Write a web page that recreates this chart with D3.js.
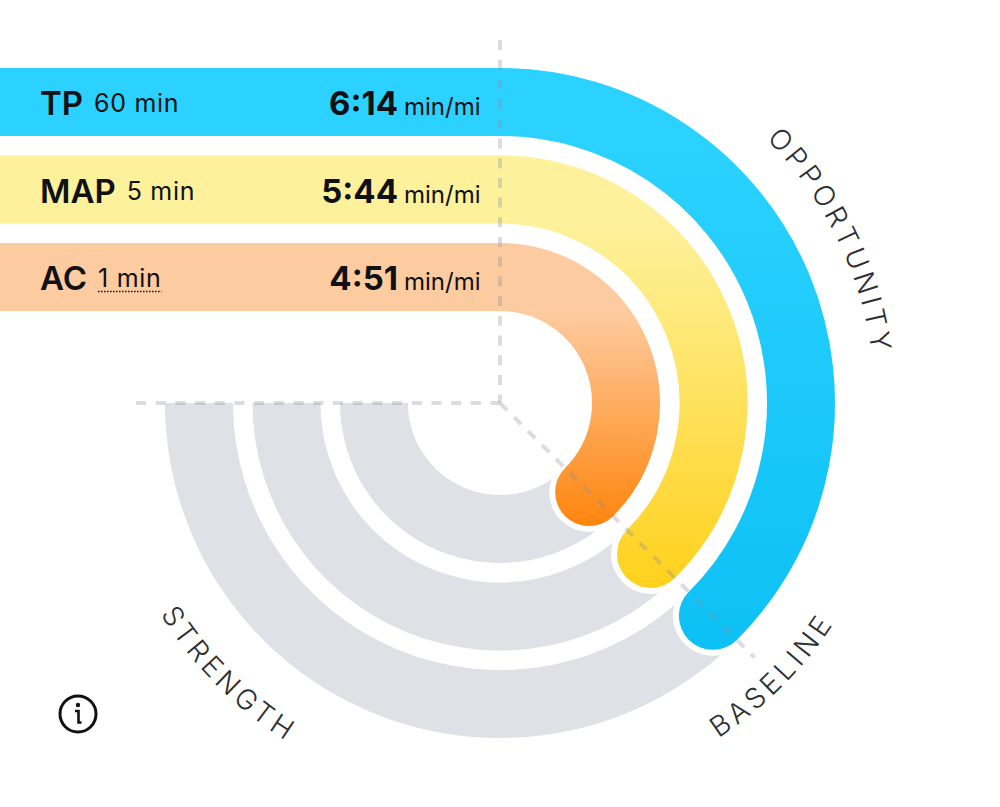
<!DOCTYPE html>
<html>
<head>
<meta charset="utf-8">
<script src="https://cdn.jsdelivr.net/npm/d3@7"></script>
<style>
  body { margin: 0; background: #fff; }
  svg { display: block; }
  text { font-family: Inter, "Noto Sans", sans-serif; fill: #101114; }
</style>
</head>
<body>
<svg width="1000" height="807"></svg>
<script>
// values
const efforts = ["TP", "MAP", "AC"];
const durations = ["60 min", "5 min", "1 min"];
const paces = ["6:14", "5:44", "4:51"];
const paceUnit = "min/mi";
const barColors = ["#2bd2ff", "#fdf19b", "#fdcba0"];
const arcEndColors = ["#0dc0f5", "#ffd11c", "#ff850d"];
const greyColor = "#e0e1e6";

// degrees clockwise from twelve o'clock
const baselineAngle = 135;
const strengthAngle = 270;

const svg = d3.select("svg");
const cx = 500, cy = 403;
const rad = d => d * Math.PI / 180;

// bands are the same width across the bars and around the rings
const radius = d3.scaleBand().domain(efforts.slice().reverse()).range([92, 335]).paddingInner(0.223);
const y = d3.scaleBand().domain(efforts).range([68, 311]).paddingInner(0.223);
const band = radius.bandwidth();

const defs = svg.append("defs");
efforts.forEach((e, i) => {
    const mid = radius(e) + band / 2;
    const grad = defs.append("linearGradient")
        .attr("id", "grad" + e)
        .attr("gradientUnits", "userSpaceOnUse")
        .attr("x1", 0).attr("x2", 0)
        .attr("y1", y(e) + band)
        .attr("y2", cy + mid * Math.sin(rad(baselineAngle - 90)) + band / 2);
    grad.append("stop").attr("offset", 0).attr("stop-color", barColors[i]);
    grad.append("stop").attr("offset", 1).attr("stop-color", arcEndColors[i]);
});

// grey strength rings
const greyArc = d3.arc()
    .innerRadius(d => radius(d))
    .outerRadius(d => radius(d) + band)
    .startAngle(rad(baselineAngle))
    .endAngle(rad(strengthAngle));

svg.append("g").attr("transform", `translate(${cx},${cy})`)
    .selectAll("path")
    .data(efforts)
    .join("path")
    .attr("d", greyArc)
    .attr("fill", greyColor);

// centre line of a coloured ring, stroked so the end gets a round cap
function ringLine(e) {
    const p = d3.path();
    p.arc(cx, cy, radius(e) + band / 2, rad(-90), rad(baselineAngle - 90));
    return p.toString();
}

svg.append("g").selectAll("path")
    .data(efforts)
    .join("path")
    .attr("d", ringLine)
    .attr("fill", "none")
    .attr("stroke", "#fff")
    .attr("stroke-width", band + 12)
    .attr("stroke-linecap", "round");

svg.append("g").selectAll("path")
    .data(efforts)
    .join("path")
    .attr("d", ringLine)
    .attr("fill", "none")
    .attr("stroke", d => `url(#grad${d})`)
    .attr("stroke-width", band)
    .attr("stroke-linecap", "round");

svg.append("g").selectAll("rect")
    .data(efforts)
    .join("rect")
    .attr("x", 0)
    .attr("y", d => y(d))
    .attr("width", cx)
    .attr("height", band)
    .attr("fill", (d, i) => barColors[i]);

// dashed guides, drawn from their outer end in to the centre
const guides = [
    [cx, 40, 0],
    [136, cy, 0],
    [cx + 360 * Math.sin(rad(baselineAngle)), cy - 360 * Math.cos(rad(baselineAngle)), 5]
];
svg.append("g").selectAll("line")
    .data(guides)
    .join("line")
    .attr("x1", d => d[0]).attr("y1", d => d[1])
    .attr("x2", cx).attr("y2", cy)
    .attr("stroke", "#8f909e")
    .attr("stroke-opacity", 0.32)
    .attr("stroke-width", 4)
    .attr("stroke-dasharray", "10 9.7")
    .attr("stroke-dashoffset", d => d[2]);

// row labels
const rows = svg.append("g").selectAll("g")
    .data(efforts)
    .join("g")
    .attr("transform", d => `translate(0,${y(d) + 47})`);

rows.append("text")
    .attr("class", "name")
    .attr("x", 40)
    .attr("font-size", 33)
    .attr("font-weight", 600)
    .text(d => d);

rows.append("text")
    .attr("class", "dur")
    .attr("y", -3)
    .attr("font-size", 25)
    .attr("letter-spacing", 0.7)
    .text((d, i) => durations[i])
    .attr("x", function () {
        return 40 + this.parentNode.querySelector(".name").getComputedTextLength() + 11;
    });

rows.append("text")
    .attr("x", 398)
    .attr("text-anchor", "end")
    .attr("font-size", 33)
    .attr("font-weight", 700)
    .text((d, i) => paces[i]);

rows.append("text")
    .attr("x", 404)
    .attr("font-size", 24)
    .text(paceUnit);

// the 1 min label carries a dotted underline
rows.filter(d => d === "AC").each(function () {
    const g = d3.select(this);
    const t = this.querySelector(".dur");
    const x0 = +t.getAttribute("x");
    g.append("line")
        .attr("x1", x0).attr("x2", x0 + t.getComputedTextLength())
        .attr("y1", 1.5).attr("y2", 1.5)
        .attr("stroke", "#101114")
        .attr("stroke-width", 1.5)
        .attr("stroke-dasharray", "1.5 1.5");
});

// curved axis names, angles here are canvas angles from three o'clock
const zoneLabels = ["OPPORTUNITY", "BASELINE", "STRENGTH"];
const zoneRadius = [375, 400, 400];
const zoneFrom = [-48, 70, 160];
const zoneTo = [-4, 20, 110];

zoneLabels.forEach((name, i) => {
    const p = d3.path();
    p.arc(cx, cy, zoneRadius[i], rad(zoneFrom[i]), rad(zoneTo[i]), zoneTo[i] < zoneFrom[i]);
    defs.append("path").attr("id", "zone" + i).attr("d", p.toString());
    svg.append("text")
        .attr("font-size", 28)
        .attr("font-weight", 300)
        .attr("letter-spacing", 4.2)
        .style("fill", "#2e2f35")
        .attr("text-anchor", "middle")
        .append("textPath")
        .attr("href", "#zone" + i)
        .attr("startOffset", "50%")
        .text(name);
});

// info icon
const info = svg.append("g").attr("transform", "translate(78,714)");
info.append("circle").attr("r", 18).attr("fill", "none").attr("stroke", "#101114").attr("stroke-width", 3);
info.append("circle").attr("cy", -9).attr("r", 2.2).attr("fill", "#101114");
info.append("path")
    .attr("d", "M-3,-3H0.5V8.5H3.5")
    .attr("fill", "none").attr("stroke", "#101114").attr("stroke-width", 2.6);
</script>
</body>
</html>
